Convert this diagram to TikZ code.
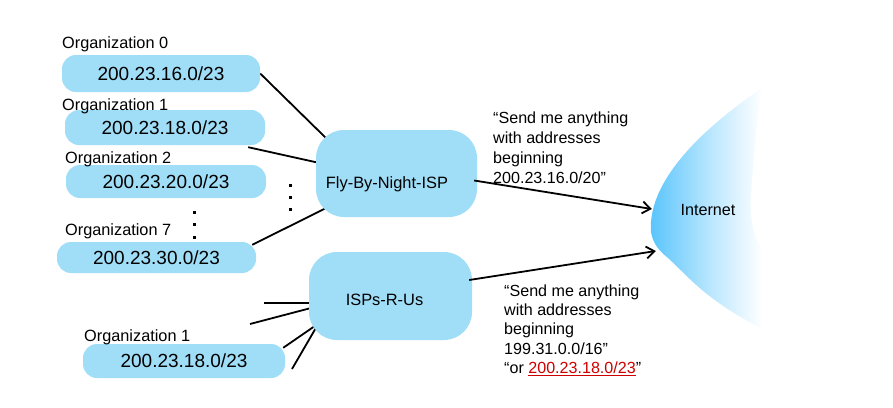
\documentclass[tikz,border=0pt]{standalone}
\usepackage{fontspec}
\setmainfont{Liberation Sans}
\usepackage{xcolor}
\usetikzlibrary{calc}
\usetikzlibrary{arrows.meta}
\definecolor{cloudblue}{RGB}{160,222,248}
\definecolor{netblue}{RGB}{88,196,252}
\definecolor{addrred}{RGB}{204,0,0}
\pgfdeclarehorizontalshading{netfade}{100bp}{color(0bp)=(netblue); color(25bp)=(netblue);
  color(50bp)=(netblue!40!white); color(70bp)=(white); color(100bp)=(white)}
\pgfdeclarelayer{background}
\pgfsetlayers{background,main}
\tikzset{orgblob/.style={
          fill=cloudblue, rounded corners=14pt, inner sep=0pt,
          font=\fontsize{19}{22}\selectfont
          },
        orgname/.style={anchor=base west, inner sep=0pt, font=\fontsize{16.3}{19}\selectfont},
        ispblob/.style={fill=cloudblue, rounded corners=28pt, inner sep=0pt},
        ispname/.style={anchor=base, inner sep=0pt, font=\fontsize{16.4}{19}\selectfont},
        adtext/.style={anchor=north west, align=left, inner sep=0pt},
        wire/.style={line width=1.8pt},
        route/.style={line width=1.8pt, -{Straight Barb[length=8pt,width=12pt]}},
}

\begin{document}
\begin{tikzpicture}[x=1pt, y=-1pt]
      \useasboundingbox (0,0) rectangle (893,407);

      % INTERNET
      \shade[shading=netfade]
        (762,88) .. controls (715,120) and (655,170) .. (651,222)
        .. controls (649,240) and (658,250) .. (668,258)
        .. controls (690,278) and (705,300) .. (768,332)
        -- (775,260) .. controls (752,245) and (748,220) .. (752,180)
        .. controls (755,140) and (758,110) .. (762,88);
      \node[inner sep=0pt, minimum width=124pt, minimum height=244pt, font=\fontsize{16.2}{19}\selectfont] (inet) at (708,210) {Internet};

      % ORGANIZATIONS
      \node[orgblob, minimum width=198pt, minimum height=37pt] (org0) at (161,73.5) {200.23.16.0/23};
      \node[orgblob, minimum width=200pt, minimum height=35pt] (org1) at (165,127.5) {200.23.18.0/23};
      \node[orgblob, minimum width=200pt, minimum height=33pt] (org2) at (166,181.5) {200.23.20.0/23};
      \node[orgblob, minimum width=199pt, minimum height=31pt] (org7) at (156.5,257.5) {200.23.30.0/23};
      \node[orgblob, minimum width=202pt, minimum height=34pt] (orgb) at (184,361) {200.23.18.0/23};
      \node[orgname] (org0name) at (62,48) {Organization 0};
      \node[orgname] (org1name) at (62,110) {Organization 1};
      \node[orgname] (org2name) at (65,163) {Organization 2};
      \node[orgname] (org7name) at (65,235) {Organization 7};
      \node[orgname] (orgbname) at (84,341) {Organization 1};
      \foreach \y in {212,224,237} \fill (192.5,\y-1.5) rectangle ++(3,3);
      \foreach \y in {185,197,209} \fill (288.5,\y-1.5) rectangle ++(3,3);

      % ISPs
      \node[ispblob, minimum width=161pt, minimum height=87pt] (fbn) at (396.5,173.5) {};
      \node[ispname] (fbnname) at (387,188) {Fly-By-Night-ISP};
      \node[ispblob, minimum width=163pt, minimum height=88pt] (rus) at (390.5,296) {};
      \node[ispname] (rusname) at (384.5,305) {ISPs-R-Us};

      % loose ends on the left of ISPs-R-Us
      \coordinate (rusfree1) at (264,303);
      \coordinate (rusfree2) at (250,324);
      \coordinate (rusfree3) at (292,369);

      % WIRING under the blobs
      \begin{pgfonlayer}{background}
        \draw[wire] (org0.east) -- ($(fbn.north west)+(14,12)$);
        \draw[wire] ($(org1.south east)+(-17,2)$) -- ($(fbn.west)+(6,-10)$);
        \draw[wire] ($(org7.north east)+(-4,3)$) -- ($(fbn.south west)+(10,-9)$);
        \draw[wire] (rusfree1) -- ($(rus.west)+(6,7)$);
        \draw[wire] (rusfree2) -- ($(rus.west)+(6,11)$);
        \draw[wire] ($(orgb.north east)+(-2,4)$) -- ($(rus.south west)+(13,-19)$);
        \draw[wire] (rusfree3) -- ($(rus.south west)+(11,-19)$);
      \end{pgfonlayer}

      % ROUTE ADVERTISEMENTS
      \draw[route] ($(fbn.east)+(-3,7)$) -- ($(inet.west)+(6,-1)$);
      \draw[route] ($(rus.east)+(-3,-16)$) -- ($(inet.west)+(10,41)$);
      \node[adtext, font=\fontsize{16.1}{20}\selectfont] (fbnad) at (493,111.3)
        {“Send me anything\\with addresses\\beginning\\200.23.16.0/20”};
      \node[adtext, font=\fontsize{16.1}{19.3}\selectfont] (rusad) at (504,284.3)
        {“Send me anything\\with addresses\\beginning\\199.31.0.0/16”\\“or \textcolor{addrred}{\underline{200.23.18.0/23}}”};
\end{tikzpicture}
\end{document}
